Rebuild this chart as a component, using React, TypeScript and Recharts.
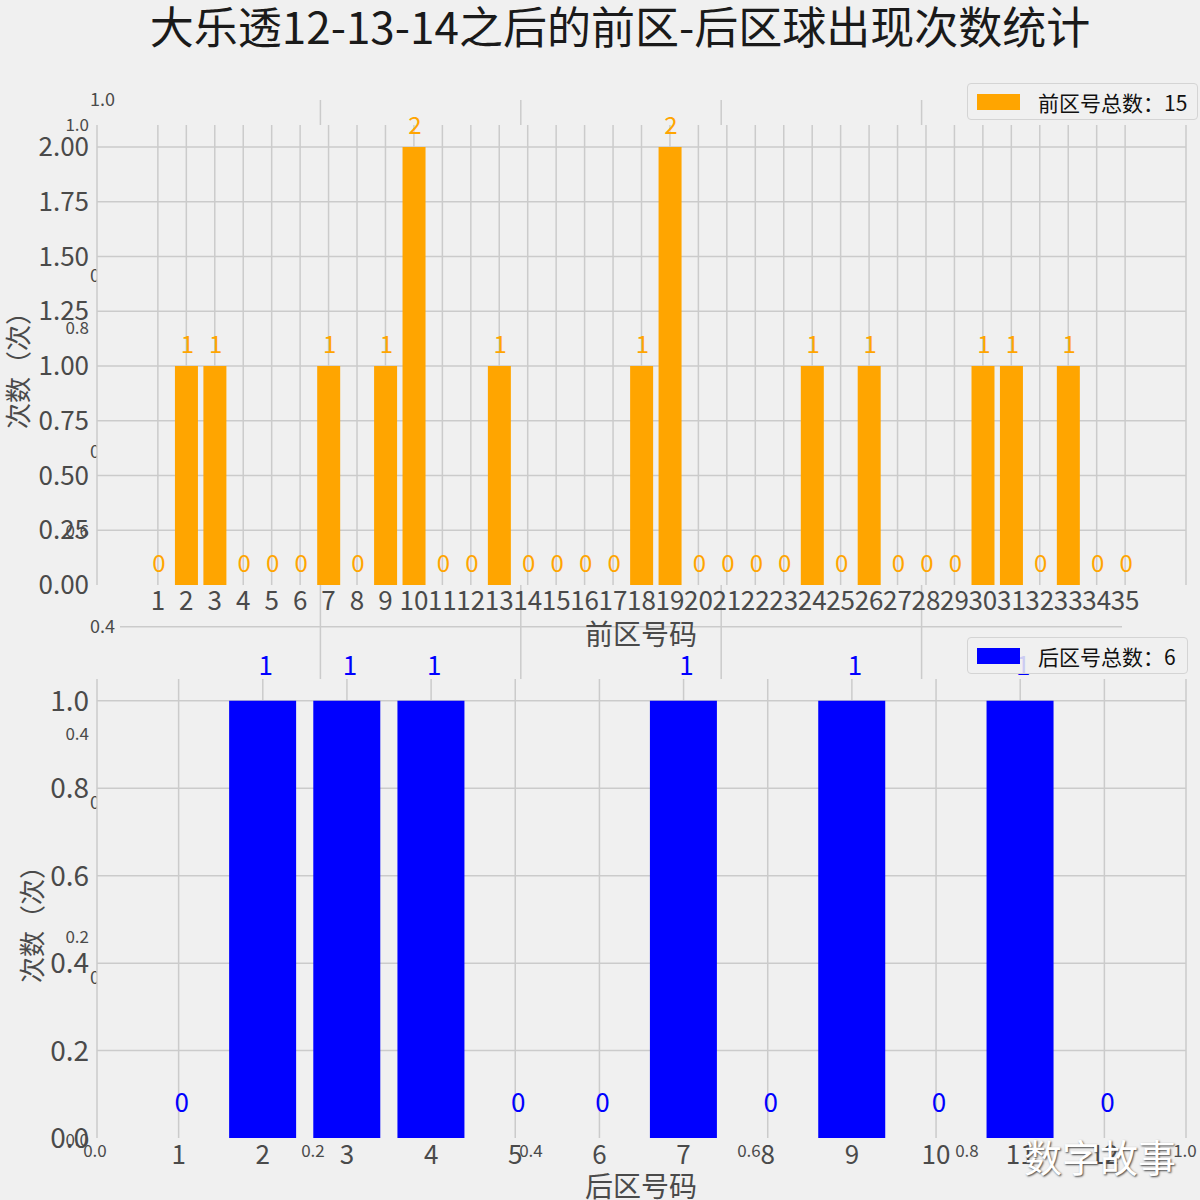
import React from 'react';
import {
  ComposedChart, Bar, Line, XAxis, YAxis, CartesianGrid, LabelList, Legend, Label,
  ScatterChart, Scatter,
} from 'recharts';

// ---------- data ----------
const frontNumbers = [1, 2, 3, 4, 5, 6, 7, 8, 9, 10, 11, 12, 13, 14, 15, 16, 17, 18, 19, 20, 21, 22, 23, 24, 25, 26, 27, 28, 29, 30, 31, 32, 33, 34, 35];
const frontCounts = [0, 1, 1, 0, 0, 0, 1, 0, 1, 2, 0, 0, 1, 0, 0, 0, 0, 1, 2, 0, 0, 0, 0, 1, 0, 1, 0, 0, 0, 1, 1, 0, 1, 0, 0];
const backNumbers = [1, 2, 3, 4, 5, 6, 7, 8, 9, 10, 11, 12];
const backCounts = [0, 1, 1, 1, 0, 0, 1, 0, 1, 0, 1, 0];
const frontYTicks = [0, 0.25, 0.5, 0.75, 1.0, 1.25, 1.5, 1.75, 2.0];
const backYTicks = [0, 0.2, 0.4, 0.6, 0.8, 1.0];
const overlayTicks = [0, 0.2, 0.4, 0.6, 0.8, 1.0];
const overlayGrid = [0.2, 0.4, 0.6, 0.8];

const TITLE = '大乐透12-13-14之后的前区-后区球出现次数统计';
const FRONT_XLABEL = '前区号码';
const BACK_XLABEL = '后区号码';
const YLABEL = '次数（次）';

const frontData = frontNumbers.map((n, i) => ({ num: n, count: frontCounts[i] }));
const backData = backNumbers.map((n, i) => ({ num: n, count: backCounts[i] }));
const overlayData = overlayTicks.map((t) => ({ x: t, y: t }));
const frontTotal = frontCounts.reduce((a, b) => a + b, 0);
const backTotal = backCounts.reduce((a, b) => a + b, 0);

// ---------- style ----------
const FONT = '"Noto Sans CJK SC", "Noto Sans", sans-serif';
const BG = '#f0f0f0';
const GRID = '#cbcbcb';
const TXT = '#4a4a4a';
const ORANGE = '#FFA500';
const BLUE = '#0000FF';

const fmt1 = (v: number) => Number(v).toFixed(1);
const fmt2 = (v: number) => Number(v).toFixed(2);

const makeValueLabel = (color: string, fontSize: number, offsetPx: number, dx: number) => (props: any) => {
  const x = Number(props.x);
  const y = Number(props.y);
  const w = props.width != null ? Number(props.width) : 0;
  if (!isFinite(x) || !isFinite(y)) return null;
  return (
    <text x={x + w / 2 + dx} y={y - offsetPx} fill={color} fontSize={fontSize} fontFamily={FONT} textAnchor="middle">
      {props.value}
    </text>
  );
};

const makeLegend = (boxW: number) => (props: any) => {
  const list = (props.payload || []).filter((p: any) => p.type !== 'none');
  const p = list[0];
  if (!p) return null;
  return (
    <div style={{
      width: boxW, height: 37, boxSizing: 'border-box', border: '1px solid #d4d4d4', borderRadius: 4,
      background: 'rgba(240,240,240,0.85)', display: 'flex', alignItems: 'center', paddingLeft: 9, fontFamily: FONT,
    }}>
      <div style={{ width: 43, height: 16, background: p.color, marginRight: 18 }} />
      <span style={{ fontSize: 21, color: '#111', whiteSpace: 'nowrap' }}>{p.value}</span>
    </div>
  );
};

const axisTitle = (text: string, x: number, y: number, size: number, rotate: boolean) => () => (
  <text
    x={x} y={y} fontSize={size} fill={TXT} fontFamily={FONT} textAnchor="middle" dominantBaseline="central"
    transform={rotate ? `rotate(-90, ${x}, ${y})` : undefined}
  >
    {text}
  </text>
);

export default function App() {
  return (
    <div style={{ position: 'absolute', left: 0, top: 0, width: 1200, height: 1200, background: BG, overflow: 'hidden', fontFamily: FONT }}>
      {/* overlay axes B */}
      <div style={{ position: 'absolute', left: 0, top: 0 }}>
        <ScatterChart width={1200} height={1200} margin={{ top: 125, right: 15, bottom: 30, left: 55 }}>
          <XAxis type="number" dataKey="x" domain={[0, 1]} ticks={overlayTicks} height={30} axisLine={false} tickLine={false}
            tickSize={0} tickMargin={5} interval={0} tickFormatter={fmt1} tick={{ fontSize: 17, fill: TXT, fontFamily: FONT }} />
          <YAxis type="number" dataKey="y" domain={[0, 1]} ticks={overlayTicks} width={40} axisLine={false} tickLine={false}
            tickSize={0} tickMargin={6} interval={0} tickFormatter={fmt1} tick={{ fontSize: 17, fill: TXT, fontFamily: FONT }} />
          <Scatter data={overlayData} isAnimationActive={false} shape={() => <g />} />
        </ScatterChart>
      </div>
      {/* overlay axes A */}
      <div style={{ position: 'absolute', left: 0, top: 0 }}>
        <ScatterChart width={1200} height={1200} margin={{ top: 100, right: 78, bottom: 192, left: 80 }}>
          <CartesianGrid stroke={GRID} strokeWidth={1.5} horizontalValues={overlayGrid} verticalValues={overlayGrid} />
          <XAxis type="number" dataKey="x" domain={[0, 1]} ticks={overlayTicks} height={30} axisLine={false} tickLine={false}
            tickSize={0} tickMargin={6} interval={0} tickFormatter={fmt1} tick={{ fontSize: 18, fill: TXT, fontFamily: FONT }} />
          <YAxis type="number" dataKey="y" domain={[0, 1]} ticks={overlayTicks} width={40} axisLine={false} tickLine={false}
            tickSize={0} tickMargin={5} interval={0} tickFormatter={fmt1} tick={{ fontSize: 18, fill: TXT, fontFamily: FONT }} />
          <Scatter data={overlayData} isAnimationActive={false} shape={() => <g />} />
        </ScatterChart>
      </div>

      {/* top subplot: front zone */}
      <div style={{ position: 'absolute', left: 0, top: 0 }}>
        <ComposedChart width={1200} height={650} data={frontData} margin={{ top: 125, right: 14, bottom: 15, left: 7 }} barCategoryGap="10%">
          <CartesianGrid stroke={GRID} strokeWidth={1.5} fill={BG} fillOpacity={1}
            horizontalValues={frontYTicks.filter((t) => t > 0)} />
          <XAxis type="number" dataKey="num" domain={[-1.14, 37.14]} ticks={frontNumbers} interval={0} height={50}
            axisLine={false} tickLine={false} tickSize={0} tickMargin={7} allowDataOverflow
            tick={{ fontSize: 26, fill: TXT, fontFamily: FONT }}>
            <Label content={axisTitle(FRONT_XLABEL, 641, 633, 28, false)} />
          </XAxis>
          <YAxis type="number" domain={[0, 2.1]} ticks={frontYTicks} interval={0} width={90} axisLine={false} tickLine={false}
            tickSize={0} tickMargin={8} tickFormatter={fmt2} allowDataOverflow
            tick={{ fontSize: 26, fill: TXT, fontFamily: FONT }}>
            <Label content={axisTitle(YLABEL, 16, 364, 26, true)} />
          </YAxis>
          <Legend layout="vertical" align="center" verticalAlign="middle" content={makeLegend(231)}
            wrapperStyle={{ position: 'absolute', left: 967, top: 83, width: 231, height: 37 }} />
          <Bar dataKey="count" name={`前区号总数：${frontTotal}`} fill={ORANGE} isAnimationActive={false} />
          <Line dataKey="count" stroke="none" dot={false} activeDot={false} legendType="none" isAnimationActive={false}>
            <LabelList dataKey="count" content={makeValueLabel(ORANGE, 24, 13, 1)} />
          </Line>
        </ComposedChart>
      </div>

      {/* bottom subplot: back zone */}
      <div style={{ position: 'absolute', left: 0, top: 600 }}>
        <ComposedChart width={1200} height={600} data={backData} margin={{ top: 79, right: 14, bottom: 12, left: 7 }} barCategoryGap="10%">
          <CartesianGrid stroke={GRID} strokeWidth={1.5} fill={BG} fillOpacity={1}
            horizontalValues={backYTicks.filter((t) => t > 0)} />
          <XAxis type="number" dataKey="num" domain={[0.03, 12.97]} ticks={backNumbers} interval={0} height={50}
            axisLine={false} tickLine={false} tickSize={0} tickMargin={8} allowDataOverflow
            tick={{ fontSize: 26, fill: TXT, fontFamily: FONT }}>
            <Label content={axisTitle(BACK_XLABEL, 641, 585, 28, false)} />
          </XAxis>
          <YAxis type="number" domain={[0, 1.05]} ticks={backYTicks} interval={0} width={90} axisLine={false} tickLine={false}
            tickSize={0} tickMargin={8} tickFormatter={fmt1} allowDataOverflow
            tick={{ fontSize: 28, fill: TXT, fontFamily: FONT }}>
            <Label content={axisTitle(YLABEL, 30, 318, 26, true)} />
          </YAxis>
          <Legend layout="vertical" align="center" verticalAlign="middle" content={makeLegend(221)}
            wrapperStyle={{ position: 'absolute', left: 967, top: 37, width: 221, height: 37 }} />
          <Bar dataKey="count" name={`后区号总数：${backTotal}`} fill={BLUE} isAnimationActive={false} />
          <Line dataKey="count" stroke="none" dot={false} activeDot={false} legendType="none" isAnimationActive={false}>
            <LabelList dataKey="count" content={makeValueLabel(BLUE, 26, 26, 3)} />
          </Line>
        </ComposedChart>
      </div>

      {/* title */}
      <div style={{ position: 'absolute', left: 0, top: -7, width: 1240, textAlign: 'center', fontSize: 44, color: '#1a1a1a', fontFamily: FONT, whiteSpace: 'nowrap' }}>
        {TITLE}
      </div>
      {/* watermark */}
      <div style={{ position: 'absolute', left: 1024, top: 1128, fontSize: 38, color: '#ffffff', fontFamily: FONT, textShadow: '1px 1px 2px #444', whiteSpace: 'nowrap' }}>
        数字故事
      </div>
    </div>
  );
}
